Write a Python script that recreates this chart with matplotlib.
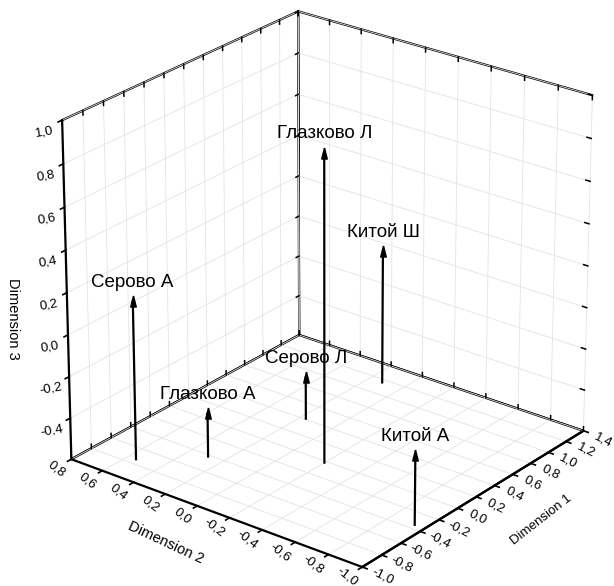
import matplotlib
matplotlib.use("Agg")
import matplotlib.pyplot as plt
import numpy as np
from matplotlib.transforms import IdentityTransform
from mpl_toolkits.mplot3d import proj3d

plt.rcParams['font.family'] = ['Liberation Sans', 'DejaVu Sans']

# points
names = ["Серово А", "Глазково А", "Серово Л", "Глазково Л", "Китой Ш", "Китой А"]
dim1 = [-0.74, -0.42, 0.41, -0.02, 1.16, -0.35]
dim2 = [0.55, 0.29, 0.17, -0.20, 0.12, -0.94]
dim3 = [0.16, -0.39, -0.395, 0.865, 0.05, -0.27]

xlim = (-1.0, 1.4)
ylim = (-1.0, 0.8)
zlim = (-0.6, 1.0)
xticks = np.arange(-1.0, 1.41, 0.2)
yticks = np.arange(-1.0, 0.81, 0.2)
zticks = np.arange(-0.4, 1.01, 0.2)


def fmt(v):
    return ("%.1f" % v).replace("-0.0", "0.0").replace(".", ",")


fig = plt.figure(figsize=(6.14, 5.86), dpi=100)
ax = fig.add_axes([0.023, 0.01, 1, 1], projection='3d', computed_zorder=False)
ax.set_proj_type('persp', focal_length=1.4)
ax.view_init(elev=24.7, azim=-142)
ax.set_box_aspect((1.11, 1.11, 1.11), zoom=1.065)

ax.set_xlim(*xlim)
ax.set_ylim(*ylim)
ax.set_zlim(*zlim)
ax.set_xticks(xticks)
ax.set_yticks(yticks)
ax.set_zticks(zticks)
ax.set_xticklabels([])
ax.set_yticklabels([])
ax.set_zticklabels([])
for t in (ax.title, ax._left_title, ax._right_title):
    t.set_visible(False)

for a in (ax.xaxis, ax.yaxis, ax.zaxis):
    a.set_pane_color((1, 1, 1, 1))
    a.pane.set_edgecolor('black')
    a.pane.set_linewidth(1.6)
    a.line.set_color('black')
    a.line.set_linewidth(1.6)
    a.offsetText.set_visible(False)
    a.label.set_visible(False)
    a._axinfo['grid']['color'] = (0.89, 0.89, 0.89, 1)
    a._axinfo['grid']['linewidth'] = 0.6
    a._axinfo['tick']['inward_factor'] = 0.2
    a._axinfo['tick']['outward_factor'] = 0.0
    a._axinfo['tick']['linewidth'] = {True: 1.2, False: 0.5}

# extra tick marks on the back edges of the box
kt = dict(color='black', lw=1.1, zorder=3)
dz = 0.02
dx = 0.03
dy = 0.025
for t in xticks:
    ax.plot([t, t], [ylim[1], ylim[1]], [zlim[1], zlim[1] - dz], **kt)
    ax.plot([t, t], [ylim[1], ylim[1]], [zlim[0], zlim[0] + dz], **kt)
for t in yticks:
    ax.plot([xlim[1], xlim[1]], [t, t], [zlim[1], zlim[1] - dz], **kt)
    ax.plot([xlim[1], xlim[1]], [t, t], [zlim[0], zlim[0] + dz], **kt)
for t in zticks:
    ax.plot([xlim[1], xlim[1] - dx], [ylim[1], ylim[1]], [t, t], **kt)
    ax.plot([xlim[1], xlim[1]], [ylim[0], ylim[0] + dy], [t, t], **kt)

# arrows with labels
head = [(0, 1), (-0.5, -1), (0.5, -1), (0, 1)]
for n, x, y, z in zip(names, dim1, dim2, dim3):
    ax.plot([x, x], [y, y], [zlim[0], z], color='black', lw=1.6, zorder=5)
    ax.plot([x], [y], [z], marker=head, color='black', ms=8, zorder=6)
    ax.text(x, y, z + 0.05, n, ha='center', va='bottom', fontsize=13.5, zorder=7)

# tick labels placed next to the projected tick positions
fig.canvas.draw()
M = ax.get_proj()


def to_px(x, y, z):
    xs, ys, _ = proj3d.proj_transform(x, y, z, M)
    return ax.transData.transform((xs, ys))


tl = dict(fontsize=9.5, ha='center', va='center', transform=IdentityTransform())
for t in xticks:
    px, py = to_px(t, ylim[0], zlim[0])
    fig.text(px + 20, py - 9, fmt(t), rotation=-27, **tl)
for t in yticks:
    px, py = to_px(xlim[0], t, zlim[0])
    fig.text(px - 15, py - 10, fmt(t), rotation=-38, **tl)
for t in zticks:
    px, py = to_px(xlim[0], ylim[1], t)
    fig.text(px - 18, py - 12, fmt(t), rotation=10, **tl)

fig.text(166 / 614, 1 - 543 / 586, "Dimension 2", fontsize=10.5, rotation=-25,
         ha='center', va='center')
fig.text(541 / 614, 1 - 520 / 586, "Dimension 1", fontsize=9.5, rotation=38,
         ha='center', va='center')
fig.text(13 / 614, 1 - 319 / 586, "Dimension 3", fontsize=10.5, rotation=270,
         ha='center', va='center')

fig.savefig("out.png", dpi=100)
